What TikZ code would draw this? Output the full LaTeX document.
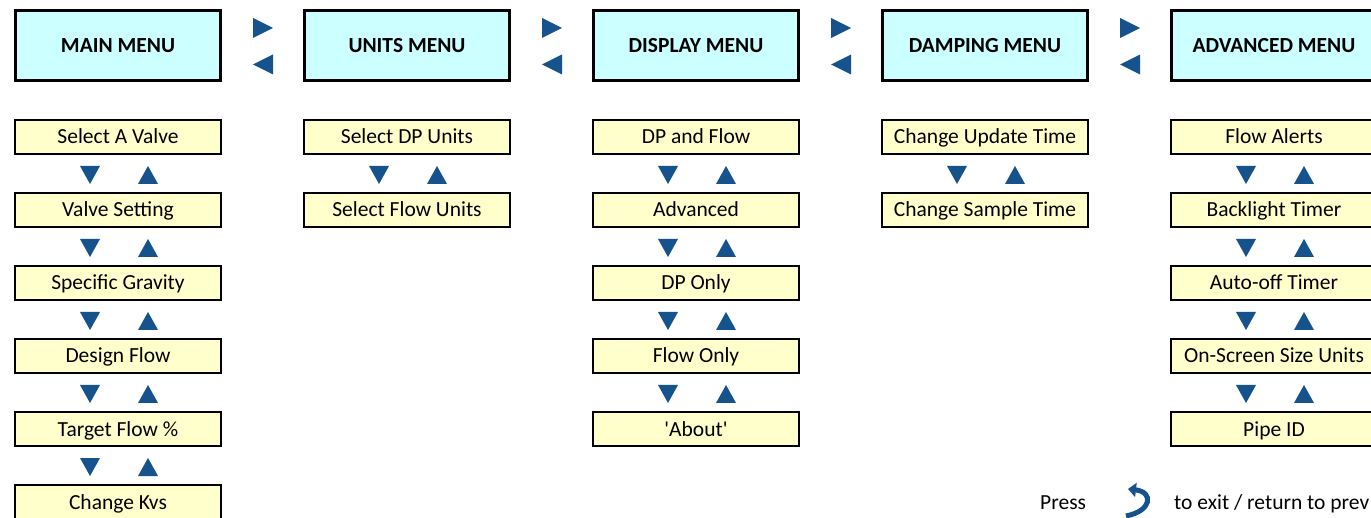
\documentclass[tikz,border=0pt]{standalone}
\usepackage{fontspec}
\setmainfont{Carlito}
\usetikzlibrary{arrows.meta}
\definecolor{navy}{RGB}{22,82,140}
\definecolor{hdrfill}{RGB}{204,255,255}
\definecolor{itmfill}{RGB}{255,255,204}
\begin{document}
\begin{tikzpicture}[x=1pt,y=-1pt,
  hdr/.style={draw=black,line width=3pt,fill=hdrfill,minimum width=205pt,minimum height=70pt,inner sep=0pt,text height=14pt,text depth=0pt,font=\fontsize{21.5}{24}\selectfont\bfseries},
  itm/.style={draw=black,line width=2pt,fill=itmfill,minimum width=206pt,minimum height=34.5pt,inner sep=0pt,text height=14pt,text depth=0pt,font=\fontsize{21.5}{24}\selectfont},
  lbl/.style={inner sep=0pt,anchor=base west,font=\fontsize{21.5}{24}\selectfont},
  dntri/.pic={\fill[navy] (-10,-9) -- (10,-9) -- (0,9) -- cycle;},
  uptri/.pic={\fill[navy] (-10,9) -- (10,9) -- (0,-9) -- cycle;},
  rttri/.pic={\fill[navy] (-10,-10) -- (10,0) -- (-10,10) -- cycle;},
  lftri/.pic={\fill[navy] (10,-10) -- (-10,0) -- (10,10) -- cycle;}
]
\useasboundingbox (0,0) rectangle (1371,518);
\clip (0,0) rectangle (1371,518);
\fill[white] (0,0) rectangle (1371,518);

% headers
\node[hdr] (h0) at (118,45.5) {MAIN MENU};
\node[hdr] (h1) at (407,45.5) {UNITS MENU};
\node[hdr] (h2) at (696,45.5) {DISPLAY MENU};
\node[hdr] (h3) at (985,45.5) {DAMPING MENU};
\node[hdr] (h4) at (1274,45.5) {ADVANCED MENU};

% left/right arrows between headers
\foreach \i in {0,1,2,3}{
  \pic at (263+289*\i,28) {rttri};
  \pic at (263+289*\i,64.5) {lftri};
}

% main menu items
\foreach \t [count=\k from 0] in {Select A Valve,Valve Setting,Specific Gravity,Design Flow,Target Flow \%,Change Kvs}
  \node[itm] (m\k) at (118,137+73*\k) {\t};
% units menu
\foreach \t [count=\k from 0] in {Select DP Units,Select Flow Units}
  \node[itm] (u\k) at (407,137+73*\k) {\t};
% display menu
\foreach \t [count=\k from 0] in {DP and Flow,Advanced,DP Only,Flow Only,\textquotesingle About\textquotesingle}
  \node[itm] (d\k) at (696,137+73*\k) {\t};
% damping menu
\foreach \t [count=\k from 0] in {Change Update Time,Change Sample Time}
  \node[itm] (p\k) at (985,137+73*\k) {\t};
% advanced menu
\foreach \t [count=\k from 0] in {Flow Alerts,Backlight Timer,Auto-off Timer,On-Screen Size Units,Pipe ID}
  \node[itm] (a\k) at (1274,137+73*\k) {\t};

% up/down arrows between items
\foreach \c/\n in {118/5,407/1,696/4,985/1,1274/4}{
  \foreach \k in {1,...,\n}{
    \pic at (\c-28,175+73*\k-73) {dntri};
    \pic at (\c+30,175+73*\k-73) {uptri};
  }
}

% footer
\node[lbl] (press) at (1040,509) {Press};
\coordinate (ra) at (1126,516);
\coordinate (rb) at (1128,489);
\draw[navy,line width=5pt,-{Triangle[length=8pt,width=14pt]}] (ra) .. controls (1152,511) and (1154,492) .. (rb);
\node[lbl] (exit) at (1174,509) {to exit / return to prev};
\end{tikzpicture}
\end{document}
